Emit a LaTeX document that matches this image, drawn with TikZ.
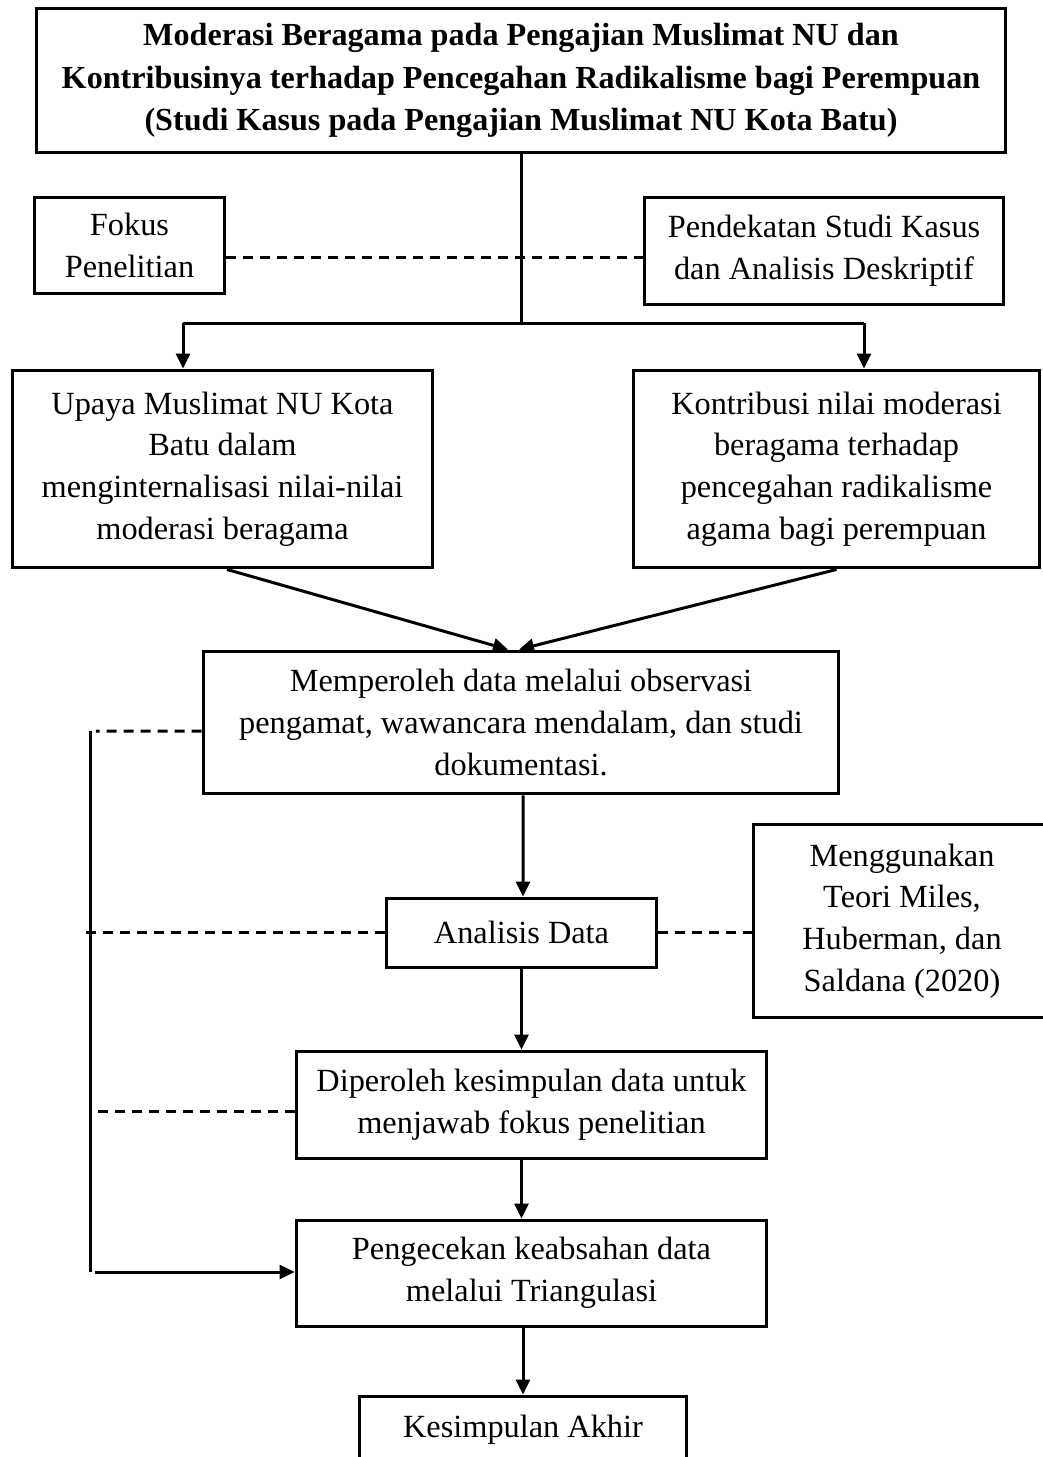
\documentclass[tikz,border=0pt]{standalone}
\usepackage{fontspec}
\setmainfont{Liberation Serif}
\usepackage{tikz}
\usetikzlibrary{arrows.meta,positioning,calc}

\begin{document}
\begin{tikzpicture}[x=0.02cm,y=-0.02cm,
  line width=0.06cm,
  box/.style={draw,rectangle,inner sep=0pt,align=center,
    font=\fontsize{18.4}{23.8}\selectfont},
  arr/.style={-{Triangle[length=0.3cm,width=0.28cm]}},
  dashline/.style={dash pattern=on 0.2cm off 0.14cm}]

  \useasboundingbox (0,0) rectangle (1043,1457);

  % title
  \node[box,minimum width=19.4cm,minimum height=2.9cm,
    font=\fontsize{18.3}{24.4}\selectfont\bfseries] (title) at (521,80.5)
    {Moderasi Beragama pada Pengajian Muslimat NU dan\\
     Kontribusinya terhadap Pencegahan Radikalisme bagi Perempuan\\
     (Studi Kasus pada Pengajian Muslimat NU Kota Batu)};

  % focus and approach
  \node[box,minimum width=3.82cm,minimum height=1.94cm] (fokus) at (129.5,245.5)
    {Fokus\\Penelitian};
  \node[box,minimum width=7.2cm,minimum height=2.16cm] (pendekatan) at (824,251)
    {Pendekatan Studi Kasus\\dan Analisis Deskriptif};

  % the two research questions
  \node[box,minimum width=8.42cm,minimum height=3.96cm] (upaya) at (222.5,469)
    {Upaya Muslimat NU Kota\\Batu dalam\\menginternalisasi nilai-nilai\\moderasi beragama};
  \node[box,minimum width=8.14cm,minimum height=3.96cm] (kontribusi) at (836.5,469)
    {Kontribusi nilai moderasi\\beragama terhadap\\pencegahan radikalisme\\agama bagi perempuan};

  % data collection and analysis
  \node[box,minimum width=12.72cm,minimum height=2.86cm] (data) at (521,722.5)
    {Memperoleh data melalui observasi\\pengamat, wawancara mendalam, dan studi\\dokumentasi.};
  \node[box,minimum width=5.42cm,minimum height=1.38cm] (analisis) at (521.5,932.5)
    {Analisis Data};
  \node[box,minimum width=5.96cm,minimum height=3.88cm] (teori) at (902,921)
    {Menggunakan\\Teori Miles,\\Huberman, dan\\Saldana (2020)};
  \node[box,minimum width=9.42cm,minimum height=2.14cm] (diperoleh) at (531.5,1104.5)
    {Diperoleh kesimpulan data untuk\\menjawab fokus penelitian};
  \node[box,minimum width=9.42cm,minimum height=2.12cm] (cek) at (531.5,1273)
    {Pengecekan keabsahan data\\melalui Triangulasi};
  \node[box,minimum width=6.56cm,minimum height=1.36cm] (akhir) at (523,1430)
    {Kesimpulan Akhir};

  % split below the title
  \coordinate (sl) at (183,323);
  \coordinate (sr) at (864,323);
  \draw (title.south) -- (title.south |- sl);
  \draw (sl) -- (sr);
  \draw[arr] (sl) -- (sl |- upaya.north);
  \draw[arr] (sr) -- (sr |- kontribusi.north);
  \draw[dashline] ([yshift=-0.23cm]fokus.east) -- ([yshift=-0.23cm]fokus.east -| pendekatan.west);

  % converging arrows
  \draw[arr] ([xshift=0.09cm]upaya.south) -- ([xshift=-0.26cm]data.north);
  \draw[arr] (kontribusi.south) -- ([xshift=-0.04cm]data.north);

  % main flow
  \draw[arr] ([xshift=0.04cm]data.south) -- ([xshift=0.03cm]analisis.north);
  \draw[arr] (analisis.south) -- (analisis.south |- diperoleh.north);
  \draw[arr] (analisis.south |- diperoleh.south) -- (analisis.south |- cek.north);
  \draw[arr] (akhir.north |- cek.south) -- (akhir.north);

  % side links
  \coordinate (rail) at (90,731);
  \coordinate (railend) at (90,1272);
  \draw[dashline] ([yshift=-0.17cm]data.west) -- ([xshift=0.12cm]rail);
  \draw (rail) -- (railend);
  \draw[dashline] (analisis.west) -- ([xshift=-0.12cm]analisis.west -| rail);
  \draw[dashline] (analisis.east) -- (analisis.east -| teori.west);
  \draw[dashline] ([yshift=-0.13cm]diperoleh.west) -- ([yshift=-0.13cm]diperoleh.west -| rail);
  \draw[arr] ([xshift=0.1cm]railend) -- (railend -| cek.west);
\end{tikzpicture}
\end{document}
